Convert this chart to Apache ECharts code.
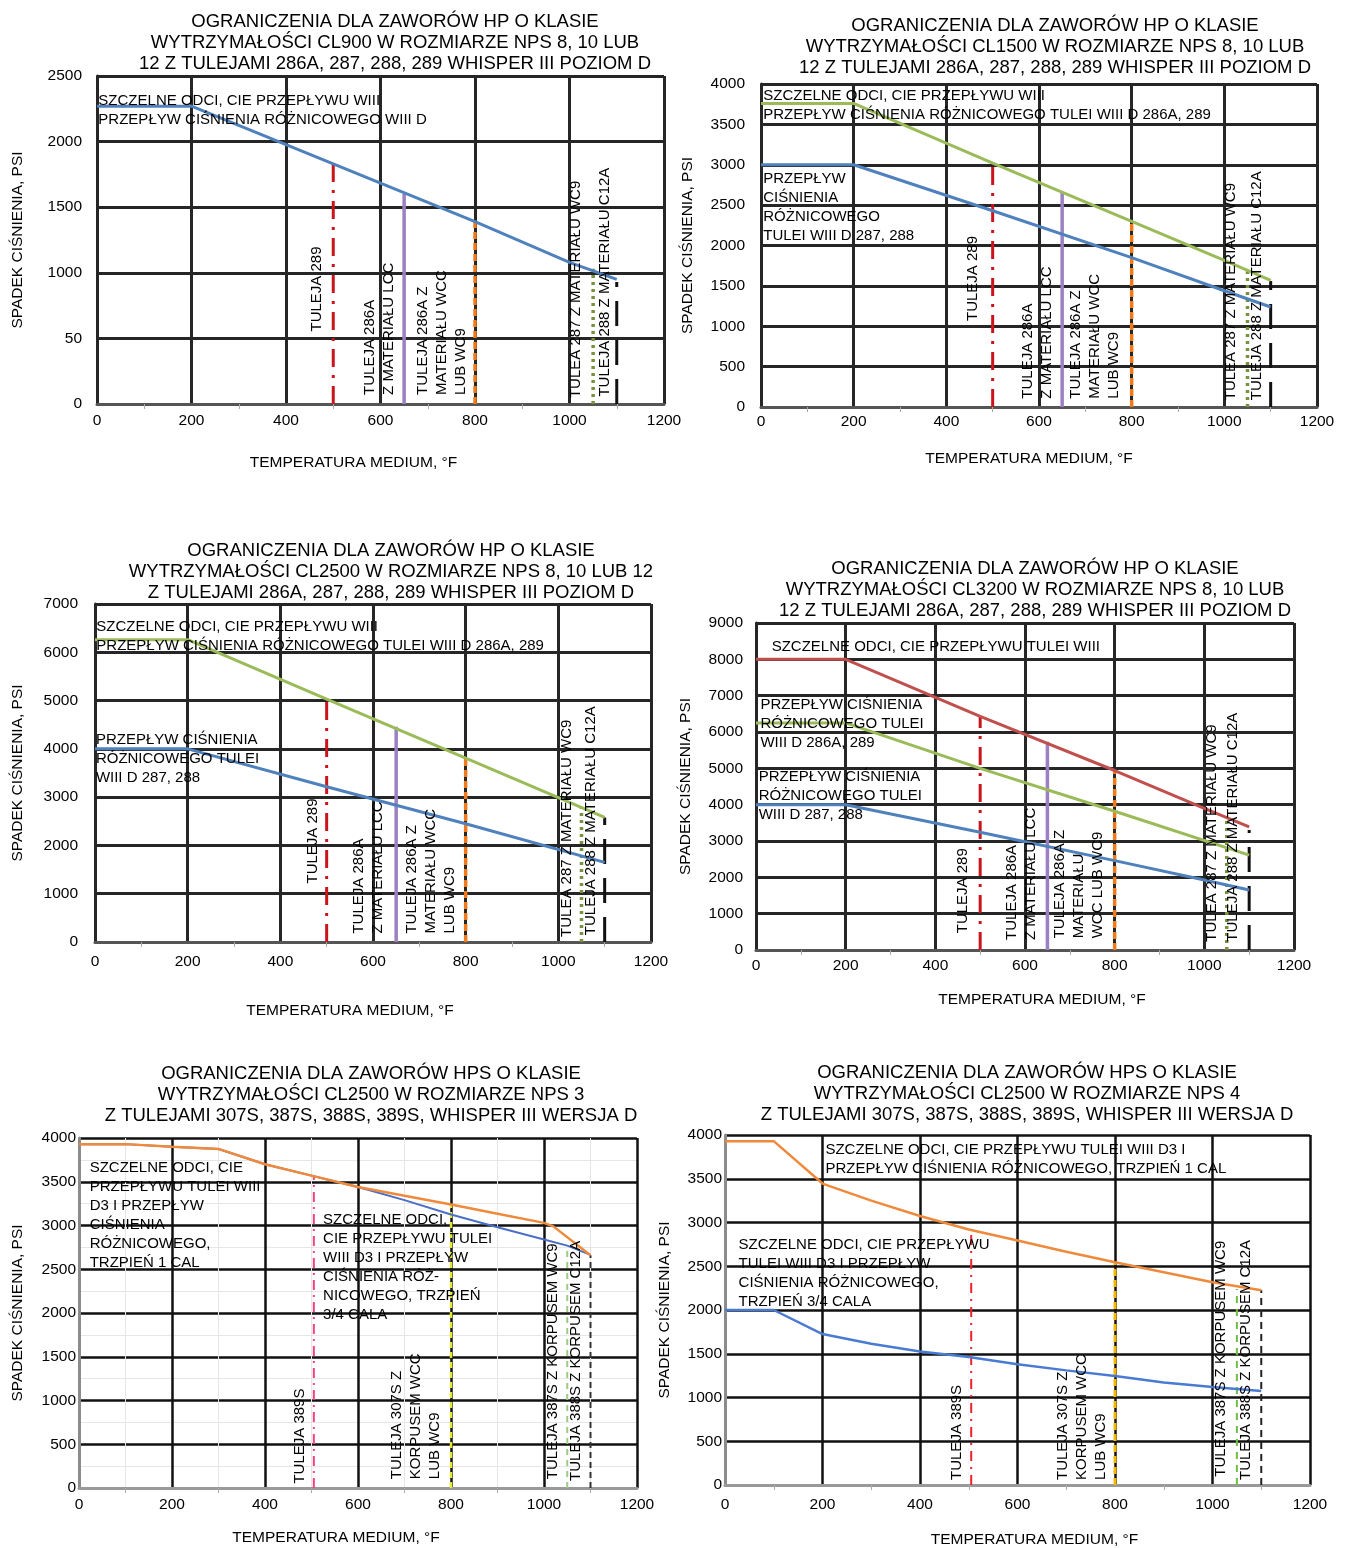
<!DOCTYPE html>
<html>
<head>
<meta charset="utf-8">
<script src="https://cdn.jsdelivr.net/npm/echarts@6.0.0/dist/echarts.min.js"></script>
<style>
html, body { margin: 0; padding: 0; background: #fff; }
#chart { width: 1346px; height: 1548px; }
</style>
</head>
<body>
<div id="chart"></div>
<script>
// ---- data ----
const xTickLabels = ['0', '200', '400', '600', '800', '1000', '1200'];
const xName = 'TEMPERATURA MEDIUM, °F';
const yName = 'SPADEK CIŚNIENIA, PSI';

// CL900, NPS 8/10/12
const cl900Title = 'OGRANICZENIA DLA ZAWORÓW HP O KLASIE\nWYTRZYMAŁOŚCI CL900 W ROZMIARZE NPS 8, 10 LUB\n12 Z TULEJAMI 286A, 287, 288, 289 WHISPER III POZIOM D';
const cl900YLabels = ['0', '50', '1000', '1500', '2000', '2500'];   // "50" as printed
const cl900Blue = [[0, 2270], [200, 2270], [500, 1830], [800, 1390], [1000, 1080], [1100, 950]];
const cl900LimitTemp = [500, 650, 800, 1050, 1100];
const cl900LimitTop = [1830, 1600, 1390, 1030, 930];
const cl900Notes = [
  'SZCZELNE ODCI, CIE PRZEPŁYWU WIII\nPRZEPŁYW CIŚNIENIA RÓŻNICOWEGO WIII D',
  'TULEJA 289', 'TULEJA 286A\nZ MATERIAŁU LCC', 'TULEJA 286A Z\nMATERIAŁU WCC\nLUB WC9',
  'TULEA 287 Z MATERIAŁU WC9', 'TULEJA 288 Z MATERIAŁU C12A'
];

// CL1500
const cl1500Title = 'OGRANICZENIA DLA ZAWORÓW HP O KLASIE\nWYTRZYMAŁOŚCI CL1500 W ROZMIARZE NPS 8, 10 LUB\n12 Z TULEJAMI 286A, 287, 288, 289 WHISPER III POZIOM D';
const cl1500YLabels = ['0', '500', '1000', '1500', '2000', '2500', '3000', '3500', '4000'];
const cl1500Green = [[0, 3760], [200, 3760], [500, 3020], [800, 2300], [1000, 1815], [1100, 1568]];
const cl1500Blue = [[0, 3000], [200, 3000], [500, 2430], [800, 1850], [1000, 1440], [1100, 1238]];
const cl1500LimitTemp = [500, 650, 800, 1050, 1100];
const cl1500LimitTop = [3020, 2660, 2300, 1680, 1560];
const cl1500Notes = [
  'SZCZELNE ODCI, CIE PRZEPŁYWU WIII\nPRZEPŁYW CIŚNIENIA RÓŻNICOWEGO TULEI WIII D 286A, 289',
  'PRZEPŁYW\nCIŚNIENIA\nRÓŻNICOWEGO\nTULEI WIII D 287, 288',
  'TULEJA 289', 'TULEJA 286A\nZ MATERIAŁU LCC', 'TULEJA 286A Z\nMATERIAŁU WCC\nLUB WC9',
  'TULEA 287 Z MATERIAŁU WC9', 'TULEJA 288 Z MATERIAŁU C12A'
];

// CL2500, NPS 8/10/12
const cl2500Title = 'OGRANICZENIA DLA ZAWORÓW HP O KLASIE\nWYTRZYMAŁOŚCI CL2500 W ROZMIARZE NPS 8, 10 LUB 12\nZ TULEJAMI 286A, 287, 288, 289 WHISPER III POZIOM D';
const cl2500YLabels = ['0', '1000', '2000', '3000', '4000', '5000', '6000', '7000'];
const cl2500Green = [[0, 6260], [200, 6260], [500, 5030], [800, 3810], [1100, 2580]];
const cl2500Blue = [[0, 4000], [200, 4000], [500, 3215], [800, 2450], [1100, 1650]];
const cl2500LimitTemp = [500, 650, 800, 1050, 1100];
const cl2500LimitTop = [5030, 4460, 3810, 2800, 2580];
const cl2500Notes = [
  'SZCZELNE ODCI, CIE PRZEPŁYWU WIII\nPRZEPŁYW CIŚNIENIA RÓŻNICOWEGO TULEI WIII D 286A, 289',
  'PRZEPŁYW CIŚNIENIA\nRÓŻNICOWEGO TULEI\nWIII D 287, 288',
  'TULEJA 289', 'TULEJA 286A\nZ MATERIAŁU LCC', 'TULEJA 286A Z\nMATERIAŁU WCC\nLUB WC9',
  'TULEA 287 Z MATERIAŁU WC9', 'TULEJA 288 Z MATERIAŁU C12A'
];

// CL3200
const cl3200Title = 'OGRANICZENIA DLA ZAWORÓW HP O KLASIE\nWYTRZYMAŁOŚCI CL3200 W ROZMIARZE NPS 8, 10 LUB\n12 Z TULEJAMI 286A, 287, 288, 289 WHISPER III POZIOM D';
const cl3200YLabels = ['0', '1000', '2000', '3000', '4000', '5000', '6000', '7000', '8000', '9000'];
const cl3200Red = [[0, 8000], [200, 8000], [500, 6430], [800, 4940], [1000, 3900], [1100, 3390]];
const cl3200Green = [[0, 6250], [200, 6250], [500, 5000], [800, 3820], [1100, 2610]];
const cl3200Blue = [[0, 4000], [200, 4000], [500, 3240], [800, 2460], [1000, 1925], [1100, 1650]];
const cl3200LimitTemp = [500, 650, 800, 1050, 1100];
const cl3200LimitTop = [6430, 5730, 4950, 3640, 3300];
const cl3200Notes = [
  'SZCZELNE ODCI, CIE PRZEPŁYWU TULEI WIII',
  'PRZEPŁYW CIŚNIENIA\nRÓŻNICOWEGO TULEI\nWIII D 286A, 289',
  'PRZEPŁYW CIŚNIENIA\nRÓŻNICOWEGO TULEI\nWIII D 287, 288',
  'TULEJA 289', 'TULEJA 286A\nZ MATERIAŁU LCC', 'TULEJA 286A Z\nMATERIAŁU\nWCC LUB WC9',
  'TULEA 287 Z MATERIAŁU WC9', 'TULEJA 288 Z MATERIAŁU C12A'
];

// HPS CL2500 NPS 3
const nps3Title = 'OGRANICZENIA DLA ZAWORÓW HPS O KLASIE\nWYTRZYMAŁOŚCI CL2500 W ROZMIARZE NPS 3\nZ TULEJAMI 307S, 387S, 388S, 389S, WHISPER III WERSJA D';
const nps3YLabels = ['0', '500', '1000', '1500', '2000', '2500', '3000', '3500', '4000'];
const nps3Blue = [[0, 3930], [100, 3930], [200, 3900], [300, 3875], [400, 3700], [500, 3570], [600, 3440],
  [700, 3290], [800, 3125], [900, 2980], [1000, 2840], [1050, 2770], [1100, 2665]];
const nps3Orange = [[0, 3930], [100, 3930], [200, 3900], [300, 3875], [400, 3700], [500, 3570], [600, 3440],
  [700, 3340], [800, 3240], [900, 3135], [1000, 3030], [1020, 2990], [1100, 2660]];
const nps3LimitTemp = [505, 800, 1050, 1100];
const nps3LimitTop = [3570, 3240, 2760, 2660];
const nps3Notes = [
  'SZCZELNE ODCI, CIE\nPRZEPŁYWU TULEI WIII\nD3 I PRZEPŁYW\nCIŚNIENIA\nRÓŻNICOWEGO,\nTRZPIEŃ 1 CAL',
  'SZCZELNE ODCI,\nCIE PRZEPŁYWU TULEI\nWIII D3 I PRZEPŁYW\nCIŚNIENIA RÓŻ-\nNICOWEGO, TRZPIEŃ\n3/4 CALA',
  'TULEJA 389S', 'TULEJA 307S Z\nKORPUSEM WCC\nLUB WC9',
  'TULEJA 387S Z KORPUSEM WC9', 'TULEJA 388S Z KORPUSEM C12A'
];

// HPS CL2500 NPS 4
const nps4Title = 'OGRANICZENIA DLA ZAWORÓW HPS O KLASIE\nWYTRZYMAŁOŚCI CL2500 W ROZMIARZE NPS 4\nZ TULEJAMI 307S, 387S, 388S, 389S, WHISPER III WERSJA D';
const nps4YLabels = ['0', '500', '1000', '1500', '2000', '2500', '3000', '3500', '4000'];
const nps4Orange = [[0, 3930], [100, 3930], [200, 3445], [300, 3250], [400, 3075], [500, 2920], [600, 2795],
  [700, 2665], [800, 2546], [900, 2432], [1000, 2318], [1100, 2225]];
const nps4Blue = [[0, 2000], [100, 2000], [200, 1725], [300, 1615], [400, 1525], [500, 1463], [600, 1380],
  [700, 1310], [800, 1246], [900, 1172], [1000, 1121], [1100, 1075]];
const nps4LimitTemp = [505, 800, 1050, 1100];
const nps4LimitTop = [2870, 2546, 2240, 2225];
const nps4Notes = [
  'SZCZELNE ODCI, CIE PRZEPŁYWU TULEI WIII D3 I\nPRZEPŁYW CIŚNIENIA RÓŻNICOWEGO, TRZPIEŃ 1 CAL',
  'SZCZELNE ODCI, CIE PRZEPŁYWU\nTULEI WIII D3 I PRZEPŁYW\nCIŚNIENIA RÓŻNICOWEGO,\nTRZPIEŃ 3/4 CALA',
  'TULEJA 389S', 'TULEJA 307S Z\nKORPUSEM WCC\nLUB WC9',
  'TULEJA 387S Z KORPUSEM WC9', 'TULEJA 388S Z KORPUSEM C12A'
];

// ---- styles and layout ----
const FONT = '"Liberation Sans", Arial, sans-serif';
const BLUE = '#4f81bd', GREEN = '#9bbb59', RED = '#c0504d', ORANGE = '#ef8a3c';
const INK = '#000';

const hpLimitStyles = [
  { color: '#c9141b', width: 3, type: [18, 8, 3, 8] },
  { color: '#9b80c3', width: 3.5, type: 'solid' },
  { color: '#f07a1c', width: 3.5, type: [7, 4] },
  { color: '#76923c', width: 3.5, type: [3, 4] },
  { color: '#111111', width: 3, type: [25, 14] }
];
const nps3LimitStyles = [
  { color: '#f2427c', width: 2, type: [10, 5, 2, 5] },
  { color: '#e2ea36', width: 2.5, type: [6, 4] },
  { color: '#9ccc82', width: 2, type: [6, 5] },
  { color: '#333333', width: 2, type: [6, 4] }
];
const nps4LimitStyles = [
  { color: '#f5222d', width: 2, type: [10, 6, 2, 6] },
  { color: '#f5b800', width: 3, type: [7, 4] },
  { color: '#6fbf45', width: 2, type: [7, 6] },
  { color: '#222222', width: 2, type: [7, 5] }
];

// note anchors in data units: [temp, psi, rotate]; rotate 0 = top-left anchor, 90 = bottom-right of upright text
const cl900NoteAt = [[3, 2385, 0], [486, 552, 90], [637, 69, 90], [790, 69, 90], [1034, 45, 90], [1094, 56, 90]];
const cl1500NoteAt = [[5, 3975, 0], [5, 2948, 0], [478, 1064, 90], [637, 103, 90], [783, 103, 90], [1035, 83, 90], [1090, 83, 90]];
const cl2500NoteAt = [[3, 6721, 0], [2, 4378, 0], [491, 1210, 90], [632, 174, 90], [786, 174, 90], [1039, 104, 90], [1090, 140, 90]];
const cl3200NoteAt = [[35, 8593, 0], [10, 6998, 0], [6, 5018, 0], [483, 459, 90], [635, 275, 90], [783, 320, 90], [1039, 228, 90], [1086, 228, 90]];
const nps3NoteAt = [[23, 3764, 0], [525, 3169, 0], [496, 50, 90], [786, 100, 90], [1040, 100, 90], [1090, 80, 90]];
const nps4NoteAt = [[206, 3940, 0], [28, 2856, 0], [496, 57, 90], [791, 57, 90], [1036, 95, 90], [1088, 57, 90]];

const panels = [
  { title: cl900Title, titleAt: [390, 6.5], box: [97, 76, 567, 328], yMax: 2500, yStep: 500, yLabels: cl900YLabels,
    yLabelMargin: 15, xLabelMargin: 9, xNameGap: 51, xNameShift: 54, yNameGap: 71,
    curves: [{ data: cl900Blue, color: BLUE, width: 3 }],
    limitTemp: cl900LimitTemp, limitTop: cl900LimitTop, limitStyles: hpLimitStyles,
    notes: cl900Notes, noteAt: cl900NoteAt, gridColor: '#262626', gridWidth: 3, axisColor: '#555' },
  { title: cl1500Title, titleAt: [1050, 10.5], box: [761, 84, 556, 323], yMax: 4000, yStep: 500, yLabels: cl1500YLabels,
    yLabelMargin: 16, xLabelMargin: 7, xNameGap: 44, xNameShift: 20, yNameGap: 65,
    curves: [{ data: cl1500Green, color: GREEN, width: 3 }, { data: cl1500Blue, color: BLUE, width: 3 }],
    limitTemp: cl1500LimitTemp, limitTop: cl1500LimitTop, limitStyles: hpLimitStyles,
    notes: cl1500Notes, noteAt: cl1500NoteAt, gridColor: '#262626', gridWidth: 3, axisColor: '#555' },
  { title: cl2500Title, titleAt: [386, 535.5], box: [95, 604, 556, 338], yMax: 7000, yStep: 1000, yLabels: cl2500YLabels,
    yLabelMargin: 17, xLabelMargin: 12, xNameGap: 61, xNameShift: 46, yNameGap: 69,
    curves: [{ data: cl2500Green, color: GREEN, width: 3 }, { data: cl2500Blue, color: BLUE, width: 3 }],
    limitTemp: cl2500LimitTemp, limitTop: cl2500LimitTop, limitStyles: hpLimitStyles,
    notes: cl2500Notes, noteAt: cl2500NoteAt, gridColor: '#262626', gridWidth: 3, axisColor: '#555' },
  { title: cl3200Title, titleAt: [1030, 553.5], box: [756, 623, 538, 327], yMax: 9000, yStep: 1000, yLabels: cl3200YLabels,
    yLabelMargin: 13, xLabelMargin: 8, xNameGap: 42, xNameShift: -34, yNameGap: 62,
    curves: [{ data: cl3200Red, color: RED, width: 3 }, { data: cl3200Green, color: GREEN, width: 3 }, { data: cl3200Blue, color: BLUE, width: 3 }],
    limitTemp: cl3200LimitTemp, limitTop: cl3200LimitTop, limitStyles: hpLimitStyles,
    notes: cl3200Notes, noteAt: cl3200NoteAt, gridColor: '#262626', gridWidth: 3, axisColor: '#555' },
  { title: nps3Title, titleAt: [366, 1058.5], box: [79, 1138, 558, 350], yMax: 4000, yStep: 500, yLabels: nps3YLabels,
    yLabelMargin: 3, xLabelMargin: 9, xNameGap: 42, xNameShift: 44, yNameGap: 53, faint: true,
    curves: [{ data: nps3Blue, color: '#4b6fc6', width: 2 }, { data: nps3Orange, color: ORANGE, width: 2.5 }],
    limitTemp: nps3LimitTemp, limitTop: nps3LimitTop, limitStyles: nps3LimitStyles,
    notes: nps3Notes, noteAt: nps3NoteAt, gridColor: '#111', gridWidth: 2.5, axisColor: '#999' },
  { title: nps4Title, titleAt: [1022, 1057.5], box: [725, 1135, 585, 350], yMax: 4000, yStep: 500, yLabels: nps4YLabels,
    yLabelMargin: 3, xLabelMargin: 12, xNameGap: 47, xNameShift: -34, yNameGap: 52,
    curves: [{ data: nps4Orange, color: ORANGE, width: 2.5 }, { data: nps4Blue, color: '#4a7bd2', width: 2.5 }],
    limitTemp: nps4LimitTemp, limitTop: nps4LimitTop, limitStyles: nps4LimitStyles,
    notes: nps4Notes, noteAt: nps4NoteAt, gridColor: '#111', gridWidth: 2.5, axisColor: '#999' }
];

// ---- build option ----
const option = { animation: false, backgroundColor: '#fff', title: [], grid: [], xAxis: [], yAxis: [], series: [] };

panels.forEach(function (p, i) {
  option.title.push({
    text: p.title, left: p.titleAt[0], top: p.titleAt[1], textAlign: 'center',
    textStyle: { fontFamily: FONT, fontSize: 18.5, fontWeight: 'normal', color: INK, lineHeight: 21 }
  });
  option.grid.push({ left: p.box[0], top: p.box[1], width: p.box[2], height: p.box[3], containLabel: false, outerBoundsMode: 'none' });

  const shift = p.xNameShift;
  option.xAxis.push({
    gridIndex: i, type: 'value', min: 0, max: 1200, interval: 200,
    name: xName, nameLocation: 'middle', nameGap: p.xNameGap,
    nameTextStyle: { fontFamily: FONT, fontSize: 15.5, color: INK, padding: shift > 0 ? [0, shift, 0, 0] : [0, 0, 0, -shift] },
    axisLine: { show: true, onZero: false, lineStyle: { color: p.axisColor, width: 3 } },
    axisTick: { show: false },
    minorTick: { show: true, splitNumber: 2, length: 5, lineStyle: { color: '#aaa', width: 1 } },
    minorSplitLine: { show: !!p.faint, lineStyle: { color: '#e6e6e6', width: 1 } },
    splitLine: { show: true, lineStyle: { color: p.gridColor, width: p.gridWidth } },
    axisLabel: {
      margin: p.xLabelMargin, fontFamily: FONT, fontSize: 15.5, color: INK,
      formatter: function (v) { return xTickLabels[Math.round(v / 200)]; }
    }
  });
  option.yAxis.push({
    gridIndex: i, type: 'value', min: 0, max: p.yMax, interval: p.yStep,
    name: yName, nameLocation: 'middle', nameGap: p.yNameGap,
    nameTextStyle: { fontFamily: FONT, fontSize: 15.5, color: INK },
    axisLine: { show: true, lineStyle: { color: p.faint || i === 5 ? '#8c8c8c' : p.gridColor, width: 3 } },
    axisTick: { show: false },
    minorTick: { show: false, splitNumber: 2 },
    minorSplitLine: { show: !!p.faint, lineStyle: { color: '#e6e6e6', width: 1 } },
    splitLine: { show: true, lineStyle: { color: p.gridColor, width: p.gridWidth } },
    axisLabel: {
      margin: p.yLabelMargin, fontFamily: FONT, fontSize: 15.5, color: INK,
      formatter: function (v) { return p.yLabels[Math.round(v / p.yStep)]; }
    }
  });

  // vertical limit lines for the trims / body materials
  p.limitTemp.forEach(function (t, k) {
    option.series.push({
      type: 'line', xAxisIndex: i, yAxisIndex: i, silent: true, symbol: 'none', z: 3,
      data: [[t, 0], [t, p.limitTop[k]]],
      lineStyle: p.limitStyles[k]
    });
  });

  // pressure-drop curves
  p.curves.forEach(function (c) {
    option.series.push({
      type: 'line', xAxisIndex: i, yAxisIndex: i, silent: true, symbol: 'none', z: 4,
      data: c.data, lineStyle: { color: c.color, width: c.width }
    });
  });

  // text notes
  option.series.push({
    type: 'scatter', xAxisIndex: i, yAxisIndex: i, silent: true, z: 5,
    symbolSize: 0.1, itemStyle: { color: 'rgba(0,0,0,0)' },
    label: {
      show: true, position: [0, 0], formatter: '{b}', fontFamily: FONT, fontSize: 15, lineHeight: 19,
      color: INK, opacity: 1, textBorderWidth: 0, textShadowBlur: 0
    },
    data: p.notes.map(function (txt, k) {
      const a = p.noteAt[k];
      return {
        name: txt, value: [a[0], a[1]],
        label: a[2] === 90
          ? { rotate: 90, align: 'left', verticalAlign: 'bottom' }
          : { rotate: 0, align: 'left', verticalAlign: 'top' }
      };
    })
  });
});

const chart = echarts.init(document.getElementById('chart'), null, { renderer: 'canvas' });
chart.setOption(option);
</script>
</body>
</html>
